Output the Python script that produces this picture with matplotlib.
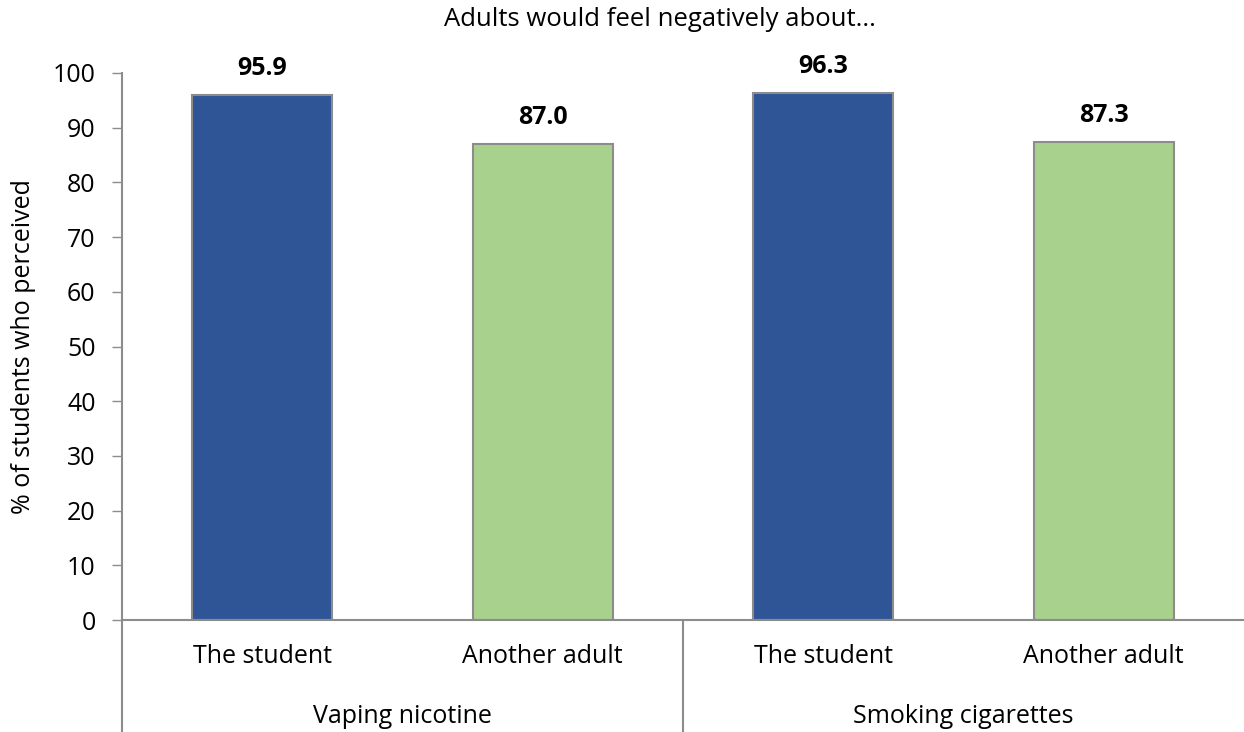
import matplotlib.pyplot as plt
from matplotlib.lines import Line2D
from matplotlib.transforms import blended_transform_factory

# data
groups = ["Vaping nicotine", "Smoking cigarettes"]
sub_labels = ["The student", "Another adult", "The student", "Another adult"]
values = [95.9, 87.0, 96.3, 87.3]
bar_colors = ["#2F5597", "#A9D18E", "#2F5597", "#A9D18E"]

plt.rcParams['font.family'] = ['Open Sans', 'DejaVu Sans']
GRAY = "#8C8C8C"

fig = plt.figure(figsize=(12.44, 7.32), dpi=100)
ax = fig.add_axes([122 / 1244, (732 - 620) / 732, 1 - 122 / 1244, 547 / 732])

x = list(range(len(values)))
ax.bar(x, values, width=0.5, color=bar_colors, edgecolor=GRAY, linewidth=1.5, zorder=2)

for xi, v in zip(x, values):
    ax.text(xi, v + 4.9, f"{v:.1f}", ha="center", va="center",
            fontsize=18, fontweight="bold")

ax.set_xlim(-0.5, 3.5)
ax.set_ylim(0, 100)
ax.set_yticks(range(0, 101, 10))
ax.tick_params(axis="y", labelsize=18, length=7, width=1, color=GRAY, pad=12)
ax.set_xticks(x)
ax.set_xticklabels(sub_labels, fontsize=18)
ax.tick_params(axis="x", length=0, pad=17)

for side in ["top", "right"]:
    ax.spines[side].set_visible(False)
for side in ["left", "bottom"]:
    ax.spines[side].set_color(GRAY)
    ax.spines[side].set_linewidth(1.5)

ax.set_ylabel("% of students who perceived", fontsize=18)
ax.yaxis.set_label_coords(-0.077, 0.5)
fig.text(660 / 1244, 1 - 20 / 732, "Adults would feel negatively about...",
         ha="center", va="center", fontsize=18.5)

# second level category labels and separators
trans = blended_transform_factory(ax.transData, ax.transAxes)
for gi, g in enumerate(groups):
    ax.text(gi * 2 + 0.5, -0.177, g, transform=trans, ha="center", va="center", fontsize=18)
for sep in [-0.5, 1.5]:
    ax.add_line(Line2D([sep, sep], [0, -0.205], transform=trans, color=GRAY,
                       linewidth=1.5, clip_on=False))

fig.savefig("out.png", dpi=100)
